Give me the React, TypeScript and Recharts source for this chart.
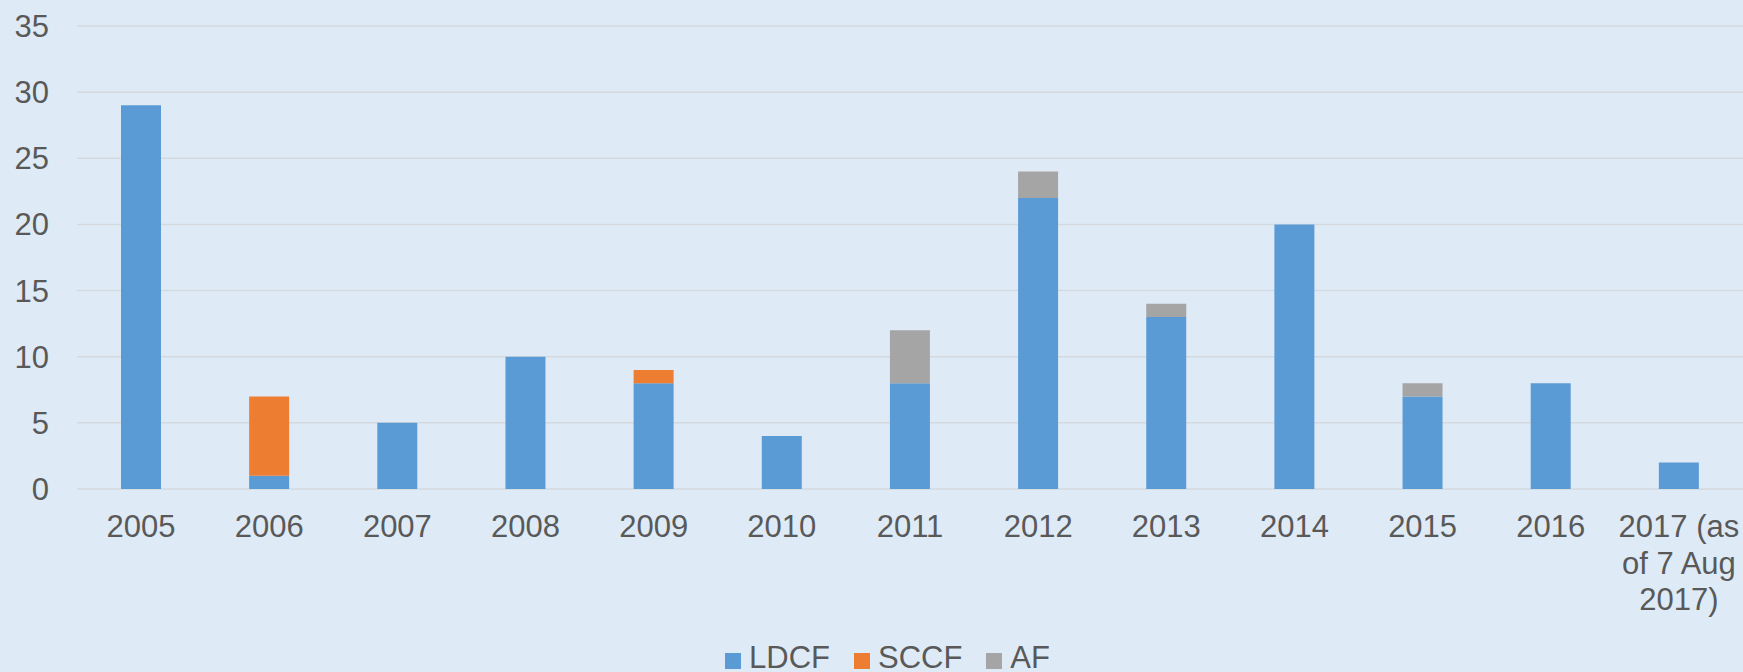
import { BarChart, Bar, XAxis, YAxis, CartesianGrid, Legend } from 'recharts';

// funding approvals per year, by fund
const years = ['2005', '2006', '2007', '2008', '2009', '2010', '2011', '2012', '2013', '2014', '2015', '2016', '2017 (as\nof 7 Aug\n2017)'];
const ldcf = [29, 1, 5, 10, 8, 4, 8, 22, 13, 20, 7, 8, 2];
const sccf = [0, 6, 0, 0, 1, 0, 0, 0, 0, 0, 0, 0, 0];
const af = [0, 0, 0, 0, 0, 0, 4, 2, 1, 0, 1, 0, 0];
const yTicks = [0, 5, 10, 15, 20, 25, 30, 35];

const series = [
  { key: 'LDCF', color: '#5B9BD5', values: ldcf },
  { key: 'SCCF', color: '#ED7D31', values: sccf },
  { key: 'AF', color: '#A5A5A5', values: af },
];

const data = years.map((year, i) => ({
  year,
  LDCF: ldcf[i],
  SCCF: sccf[i],
  AF: af[i],
}));

const BG = '#DEEBF7';
const TEXT = '#595959';
const FONT = '"Liberation Sans", Arial, sans-serif';

function YearTick({ x, y, payload }: any) {
  const lines = String(payload.value).split('\n');
  return (
    <text x={x} y={y} textAnchor="middle" fill={TEXT} fontSize={31} fontFamily={FONT}>
      {lines.map((line, i) => (
        <tspan key={i} x={x} dy={i === 0 ? '0.71em' : 36.7}>{line}</tspan>
      ))}
    </text>
  );
}

function LegendContent() {
  return (
    <div style={{ display: 'flex', justifyContent: 'center', height: 40, fontFamily: FONT, fontSize: 31, color: TEXT, paddingLeft: 56 }}>
      {series.map((s) => (
        <div key={s.key} style={{ display: 'flex', alignItems: 'center', marginRight: 24, lineHeight: '40px', position: 'relative', top: 6 }}>
          <span style={{ width: 16, height: 16, background: s.color, display: 'inline-block', marginRight: 8, marginTop: 6 }} />
          <span>{s.key}</span>
        </div>
      ))}
    </div>
  );
}

export default function App() {
  return (
    <div style={{ position: 'absolute', left: 0, top: 0, width: 1743, height: 672, background: BG }}>
      <BarChart width={1743} height={672} data={data} margin={{ top: 26, right: 0, bottom: 0, left: 0 }} barSize={40}>
        <CartesianGrid vertical={false} stroke="#D4D9DF" strokeWidth={1.5} />
        <XAxis dataKey="year" axisLine={false} tickLine={false} height={143} tickMargin={20} tick={<YearTick />} interval={0} />
        <YAxis domain={[0, 35]} ticks={yTicks} width={77} axisLine={false} tickLine={false} tickMargin={22}
          tick={{ fill: TEXT, fontSize: 31, fontFamily: FONT }} />
        <Legend verticalAlign="bottom" content={<LegendContent />} />
        {series.map((s) => (
          <Bar key={s.key} dataKey={s.key} stackId="a" fill={s.color} isAnimationActive={false} />
        ))}
      </BarChart>
    </div>
  );
}
